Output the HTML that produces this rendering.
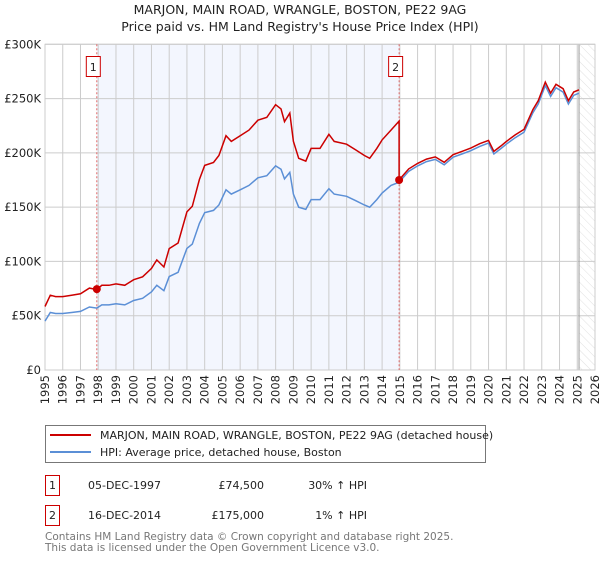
<!DOCTYPE html>
<html><head><meta charset="utf-8"><style>
body{margin:0;background:#fff;font-family:"DejaVu Sans","Liberation Sans",sans-serif;}
svg text{font-family:"DejaVu Sans","Liberation Sans",sans-serif;}
</style></head><body>
<svg id="chart" width="600" height="560" viewBox="0 0 600 560" xmlns="http://www.w3.org/2000/svg">
<defs><pattern id="hatch" width="6" height="6" patternUnits="userSpaceOnUse" patternTransform="rotate(-45)"><line x1="0" y1="0" x2="0" y2="6" stroke="#ccc" stroke-width="0.6"/></pattern></defs>
<text x="300" y="14" text-anchor="middle" font-size="12.5" fill="#222">MARJON, MAIN ROAD, WRANGLE, BOSTON, PE22 9AG</text>
<text x="300" y="31" text-anchor="middle" font-size="12.5" fill="#222">Price paid vs. HM Land Registry's House Price Index (HPI)</text>
<g id="plot"></g>
<g>
<rect x="45.5" y="425.5" width="440" height="37" fill="#fff" stroke="#777"/>
<line x1="50" y1="435" x2="91" y2="435" stroke="#cc0000" stroke-width="2"/>
<text x="100" y="439" font-size="11" fill="#222">MARJON, MAIN ROAD, WRANGLE, BOSTON, PE22 9AG (detached house)</text>
<line x1="50" y1="452" x2="91" y2="452" stroke="#5b8fd6" stroke-width="2"/>
<text x="100" y="456" font-size="11" fill="#222">HPI: Average price, detached house, Boston</text>
</g>
<g font-size="11" fill="#222">
<rect x="45.5" y="475.5" width="14" height="20" fill="#fff" stroke="#cc0000"/>
<text x="52.5" y="489" text-anchor="middle">1</text>
<text x="88" y="489">05-DEC-1997</text>
<text x="264" y="489" text-anchor="end">£74,500</text>
<text x="367" y="489" text-anchor="end">30% ↑ HPI</text>
</g>
<g font-size="11" fill="#222">
<rect x="45.5" y="505.5" width="14" height="20" fill="#fff" stroke="#cc0000"/>
<text x="52.5" y="519" text-anchor="middle">2</text>
<text x="88" y="519">16-DEC-2014</text>
<text x="264" y="519" text-anchor="end">£175,000</text>
<text x="367" y="519" text-anchor="end">1% ↑ HPI</text>
</g>
<text x="45" y="540" font-size="10.5" fill="#777">Contains HM Land Registry data © Crown copyright and database right 2025.</text>
<text x="45" y="551" font-size="10.5" fill="#777">This data is licensed under the Open Government Licence v3.0.</text>
</svg>
<script>
const hpiYears=[1995,1995.3,1995.6,1996,1996.5,1997,1997.5,1997.92,1998.2,1998.6,1999,1999.5,2000,2000.5,2001,2001.3,2001.7,2002,2002.5,2003,2003.3,2003.7,2004,2004.5,2004.8,2005.2,2005.5,2006,2006.5,2007,2007.5,2008,2008.3,2008.5,2008.8,2009,2009.3,2009.7,2010,2010.5,2011,2011.3,2012,2012.5,2013,2013.3,2013.7,2014,2014.5,2014.96,2015.5,2016,2016.5,2017,2017.5,2018,2018.5,2019,2019.5,2020,2020.3,2020.7,2021,2021.5,2022,2022.5,2022.8,2023.2,2023.5,2023.8,2024.2,2024.5,2024.8,2025.1];
const hpiValues=[45,53,52,52,53,54,58,57,60,60,61,60,64,66,72,78,73,86,90,112,116,135,145,147,152,166,162,166,170,177,179,188,185,176,182,162,150,148,157,157,167,162,160,156,152,150,157,163,170,173,183,188,192,194,189,196,199,202,206,209,199,204,208,214,219,237,245,262,252,260,256,245,253,255];
const sale1=[1997.92,74500], sale2=[2014.96,175000];
const ratio1=1.3, ratio2=1.012;
const yTicks=[0,50,100,150,200,250,300];
const xTicks=[1995,1996,1997,1998,1999,2000,2001,2002,2003,2004,2005,2006,2007,2008,2009,2010,2011,2012,2013,2014,2015,2016,2017,2018,2019,2020,2021,2022,2023,2024,2025,2026];
const X0=45,X1=595,Y0=370,Y1=44.3;
const xs=y=>X0+(y-1995)/31*(X1-X0);
const ys=v=>Y0-v/300*(Y0-Y1);
const NS="http://www.w3.org/2000/svg";
const g=document.getElementById('plot');
function mk(t,a){const e=document.createElementNS(NS,t);for(const k in a)e.setAttribute(k,a[k]);g.appendChild(e);return e;}
let e;
e=mk('rect',{x:xs(sale1[0]),y:Y1,width:xs(sale2[0])-xs(sale1[0]),height:Y0-Y1,fill:'#f3f6fe'});


e=mk('rect',{x:xs(2025.1),y:Y1,width:X1-xs(2025.1),height:Y0-Y1,fill:'url(#hatch)'});


xTicks.forEach(t=>{
 e=mk('line',{x1:xs(t),x2:xs(t),y1:Y1,y2:Y0,stroke:'#ccc','stroke-width':1});
 
 
 e=mk('text',{x:0,y:0,transform:`translate(${xs(t)+4},${Y0+5}) rotate(-90)`,'text-anchor':'end','font-size':11.5,fill:'#222'});
 e.textContent=t;
 
 
});
yTicks.forEach(t=>{
 e=mk('line',{x1:X0,x2:X1,y1:ys(t),y2:ys(t),stroke:'#ccc','stroke-width':1});
 
 
 e=mk('text',{x:X0-4,y:ys(t)+4,'text-anchor':'end','font-size':11.5,fill:'#222'});
 e.textContent=t===0?'£0':'£'+t+'K';
 
 
});
e=mk('line',{x1:xs(2025.1),x2:xs(2025.1),y1:Y1,y2:Y0,stroke:'#999','stroke-width':1});


e=mk('rect',{x:X0,y:Y1,width:X1-X0,height:Y0-Y1,fill:'none',stroke:'#ccc'});


[sale1,sale2].forEach((s,i)=>{
 e=mk('line',{x1:xs(s[0]),x2:xs(s[0]),y1:Y1,y2:Y0,stroke:'#e06666','stroke-width':1,'stroke-dasharray':'2,2'});
 
 
});
const bp=hpiYears.map((y,i)=>xs(y).toFixed(1)+','+ys(hpiValues[i]).toFixed(1));
e=mk('polyline',{points:bp.join(' '),fill:'none',stroke:'#5b8fd6','stroke-width':1.5});


const rp=[];
hpiYears.forEach((y,i)=>{
 if(y<sale2[0]) rp.push(xs(y).toFixed(1)+','+ys(hpiValues[i]*ratio1).toFixed(1));
 else {
  if(Math.abs(y-sale2[0])<0.01){rp.push(xs(y).toFixed(1)+','+ys(sale2[1]/1000*1.31).toFixed(1));}
  rp.push(xs(y).toFixed(1)+','+ys(hpiValues[i]*ratio2).toFixed(1));
 }
});
e=mk('polyline',{points:rp.join(' '),fill:'none',stroke:'#cc0000','stroke-width':1.5});


[sale1,sale2].forEach((s,i)=>{
 e=mk('circle',{cx:xs(s[0]),cy:ys(s[1]/1000),r:4,fill:'#cc0000'});
 
 
 e=mk('rect',{x:xs(s[0])-10.5,y:56.5,width:14,height:20,fill:'#fff',stroke:'#cc0000'});
 
 
 e=mk('text',{x:xs(s[0])-3.5,y:71,'text-anchor':'middle','font-size':11,fill:'#222'});
 e.textContent=i+1;
 
 
});
</script>
</body></html>
